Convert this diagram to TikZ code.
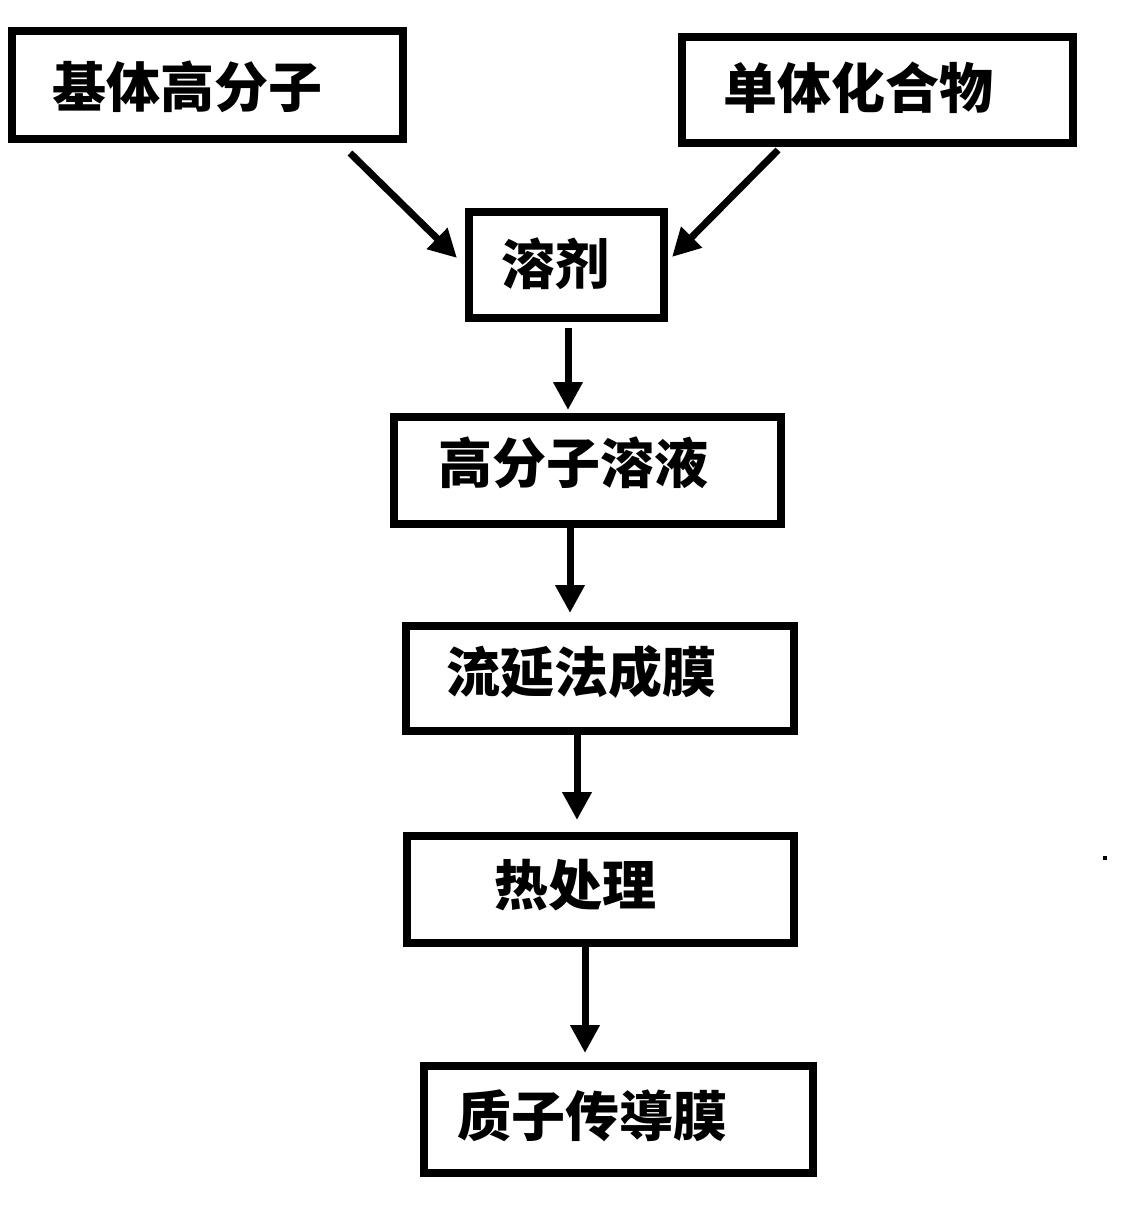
\documentclass[tikz,border=0pt]{standalone}
\usepackage{fontspec}
\newfontfamily\cjk{Noto Sans CJK SC}
\usetikzlibrary{arrows.meta,calc}
\begin{document}
\begin{tikzpicture}[x=1pt,y=-1pt,
  box/.style={draw=black,line width=8pt,rectangle,inner sep=0pt,fill=white},
  lbl/.style={inner sep=0pt,font=\cjk\bfseries\fontsize{54}{62}\selectfont},
  arr/.style={line width=7pt,-{Triangle[length=28pt,width=28pt]}}]
\useasboundingbox[fill=white] (0,0) rectangle (1124,1213);
% boxes
\node[box,minimum width=391pt,minimum height=108pt] (b1) at (207.5,85) {};
\node[box,minimum width=391pt,minimum height=106pt] (b2) at (877.5,90) {};
\node[box,minimum width=195pt,minimum height=106pt] (b3) at (566.5,265) {};
\node[box,minimum width=387pt,minimum height=107pt] (b4) at (587.5,470.5) {};
\node[box,minimum width=388pt,minimum height=105pt] (b5) at (600,678.5) {};
\node[box,minimum width=387pt,minimum height=107pt] (b6) at (600.5,889.5) {};
\node[box,minimum width=389pt,minimum height=107pt] (b7) at (618.5,1119.5) {};
% labels
\node[lbl] (t1) at (187,87) {基体高分子};
\node[lbl] (t2) at (858,88) {单体化合物};
\node[lbl] (t3) at (555,264) {溶剂};
\node[lbl] (t4) at (573,463) {高分子溶液};
\node[lbl] (t5) at (581,672) {流延法成膜};
\node[lbl] (t6) at (575,885) {热处理};
\node[lbl] (t7) at (592,1116) {质子传導膜};
% diagonal arrows
\coordinate (a1s) at (350,153);
\coordinate (a1e) at (457,258);
\coordinate (a2s) at (778,150);
\coordinate (a2e) at (672,257);
\draw[arr] (a1s) -- (a1e);
\draw[arr] (a2s) -- (a2e);
% vertical arrows
\draw[arr,shorten <=6pt,shorten >=3pt] (b3.south -| 568,0) -- (b4.north -| 568,0);
\draw[arr,shorten >=9pt] (b4.south -| 570,0) -- (b5.north -| 570,0);
\draw[arr,shorten >=12pt] (b5.south -| 577,0) -- (b6.north -| 577,0);
\draw[arr,shorten >=9pt] (b6.south -| 585,0) -- (b7.north -| 585,0);
% stray dot
\fill[black] (1103,856) rectangle (1107,860);
\end{tikzpicture}
\end{document}
